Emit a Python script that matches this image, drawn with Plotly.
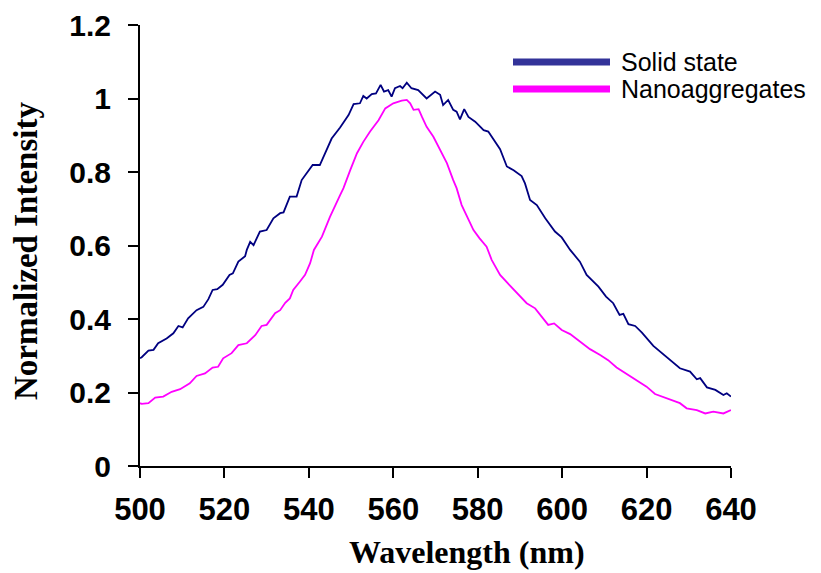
import plotly.graph_objects as go

# Solid state (navy)
solid_wl = [500.0, 500.4, 502.0, 503.2, 504.3, 506.3, 507.9, 509.1, 510.1, 511.4, 513.4, 515.0, 516.2, 517.2, 518.3,
            519.6, 521.2, 522.0, 523.3, 524.9, 525.3, 526.1, 526.9, 528.4, 530.0, 531.6, 533.2, 534.0, 535.5, 537.1,
            538.3, 539.5, 540.9, 542.6, 543.8, 545.4, 547.4, 549.4, 550.6, 552.1, 552.9, 553.7, 554.9, 555.9, 557.0,
            557.8, 558.8, 559.6, 560.4, 561.6, 562.2, 563.2, 564.3, 565.9, 567.9, 569.9, 571.1, 571.8, 573.0, 574.2,
            575.0, 575.8, 576.8, 577.8, 579.4, 581.4, 582.5, 584.1, 585.3, 586.9, 588.5, 590.4, 591.2, 592.4, 594.0,
            596.0, 598.3, 599.9, 601.9, 604.2, 605.8, 608.6, 610.4, 612.1, 613.6, 614.5, 615.7, 617.3, 618.9, 621.6,
            624.8, 627.9, 630.3, 631.9, 632.7, 634.3, 636.3, 638.2, 639.0, 640.0]
solid_int = [0.293, 0.296, 0.314, 0.316, 0.334, 0.347, 0.361, 0.381, 0.377, 0.402, 0.424, 0.433, 0.454, 0.479, 0.481,
             0.493, 0.520, 0.524, 0.556, 0.571, 0.588, 0.610, 0.601, 0.638, 0.642, 0.674, 0.688, 0.690, 0.733, 0.733,
             0.778, 0.796, 0.819, 0.819, 0.851, 0.891, 0.921, 0.955, 0.985, 0.987, 1.007, 1.000, 1.012, 1.014, 1.037,
             1.019, 1.023, 1.005, 1.028, 1.034, 1.028, 1.043, 1.028, 1.023, 1.000, 1.019, 1.010, 0.982, 0.996, 0.969,
             0.964, 0.943, 0.971, 0.950, 0.937, 0.914, 0.910, 0.882, 0.862, 0.815, 0.805, 0.789, 0.769, 0.724, 0.710,
             0.674, 0.638, 0.622, 0.588, 0.556, 0.520, 0.488, 0.461, 0.443, 0.411, 0.414, 0.386, 0.381, 0.363, 0.327,
             0.296, 0.266, 0.257, 0.236, 0.239, 0.214, 0.207, 0.193, 0.198, 0.189]

# Nanoaggregates (magenta)
nano_wl = [500.0, 500.4, 502.0, 503.6, 505.5, 507.5, 509.5, 511.8, 513.4, 515.4, 517.2, 518.5, 519.7, 521.7, 523.3,
           525.3, 527.3, 528.8, 530.0, 532.0, 533.2, 534.4, 535.5, 536.3, 537.9, 539.1, 540.3, 541.2, 543.1, 545.0,
           547.4, 548.2, 549.8, 551.4, 552.9, 554.5, 556.5, 558.1, 560.0, 562.0, 563.2, 564.0, 564.8, 566.0, 566.8,
           567.9, 569.5, 571.1, 572.7, 574.2, 575.0, 576.2, 579.0, 580.4, 582.1, 583.3, 585.3, 587.7, 590.0, 591.6,
           593.6, 595.2, 596.7, 598.1, 599.9, 601.9, 604.2, 606.6, 609.0, 610.9, 612.9, 615.3, 618.0, 620.0, 622.0,
           623.6, 625.9, 627.9, 629.5, 631.9, 633.9, 635.8, 638.2, 640.0]
nano_int = [0.171, 0.169, 0.171, 0.186, 0.189, 0.202, 0.209, 0.225, 0.245, 0.252, 0.268, 0.270, 0.293, 0.307, 0.329,
            0.334, 0.356, 0.381, 0.384, 0.416, 0.424, 0.444, 0.456, 0.479, 0.502, 0.520, 0.552, 0.588, 0.624, 0.678,
            0.737, 0.756, 0.805, 0.851, 0.882, 0.910, 0.941, 0.973, 0.987, 0.994, 0.996, 0.987, 0.969, 0.971, 0.950,
            0.923, 0.896, 0.860, 0.824, 0.778, 0.756, 0.710, 0.642, 0.620, 0.597, 0.561, 0.520, 0.490, 0.461, 0.443,
            0.429, 0.406, 0.384, 0.388, 0.370, 0.359, 0.338, 0.318, 0.302, 0.288, 0.268, 0.250, 0.232, 0.216, 0.196,
            0.189, 0.178, 0.171, 0.157, 0.152, 0.143, 0.148, 0.143, 0.152]

series_names = ["Solid state", "Nanoaggregates"]
x_ticks = [500, 520, 540, 560, 580, 600, 620, 640]
y_ticks = [0, 0.2, 0.4, 0.6, 0.8, 1.0, 1.2]
y_tick_text = ["0", "0.2", "0.4", "0.6", "0.8", "1", "1.2"]

fig = go.Figure()
fig.add_trace(go.Scatter(x=solid_wl, y=solid_int, mode="lines", name=series_names[0],
                         line=dict(color="#000080", width=1.8), showlegend=False))
fig.add_trace(go.Scatter(x=nano_wl, y=nano_int, mode="lines", name=series_names[1],
                         line=dict(color="#FF00FF", width=1.8), showlegend=False))

W, H = 821, 573
L, R, T, B = 140, 90, 25, 107
pw, ph = W - L - R, H - T - B

def px_x(p):
    return (p - L) / pw

def px_y(p):
    return (H - B - p) / ph

# Custom legend (long sample lines like the original)
legend_cols = ["#333399", "#FF00FF"]
legend_y = [62, 89]
for name, col, yy in zip(series_names, legend_cols, legend_y):
    fig.add_shape(type="line", xref="paper", yref="paper",
                  x0=px_x(513), x1=px_x(610), y0=px_y(yy), y1=px_y(yy),
                  line=dict(color=col, width=7))
    fig.add_annotation(xref="paper", yref="paper", x=px_x(619), y=px_y(yy),
                       text=name, showarrow=False, xanchor="left", yanchor="middle",
                       font=dict(family="Liberation Sans, Arial", size=25, color="black"))

fig.add_annotation(xref="paper", yref="paper", x=px_x(467), y=px_y(552),
                   text="<b>Wavelength (nm)</b>", showarrow=False, xanchor="center", yanchor="middle",
                   font=dict(family="Liberation Serif, Times New Roman", size=32, color="black"))
fig.add_annotation(xref="paper", yref="paper", x=px_x(26), y=px_y(251),
                   text="<b>Normalized Intensity</b>", showarrow=False, textangle=-90,
                   xanchor="center", yanchor="middle",
                   font=dict(family="Liberation Serif, Times New Roman", size=33, color="black"))

fig.update_layout(
    width=W, height=H,
    margin=dict(l=L, r=R, t=T, b=B, autoexpand=False),
    paper_bgcolor="white", plot_bgcolor="white",
    xaxis=dict(range=[500, 640], tickvals=x_ticks, ticks="outside", ticklen=10, tickwidth=2,
               tickcolor="black", showline=True, linecolor="black", linewidth=2, showgrid=False,
               zeroline=False, ticklabelstandoff=5,
               tickfont=dict(family="Liberation Sans, Arial", size=31, color="black", weight="bold")),
    yaxis=dict(range=[0, 1.2], tickvals=y_ticks, ticktext=y_tick_text, ticks="outside", ticklen=10,
               tickwidth=2, tickcolor="black", showline=True, linecolor="black", linewidth=2,
               showgrid=False, zeroline=False, ticklabelstandoff=11,
               tickfont=dict(family="Liberation Sans, Arial", size=30, color="black", weight="bold")),
)

fig.write_html("out.html")
